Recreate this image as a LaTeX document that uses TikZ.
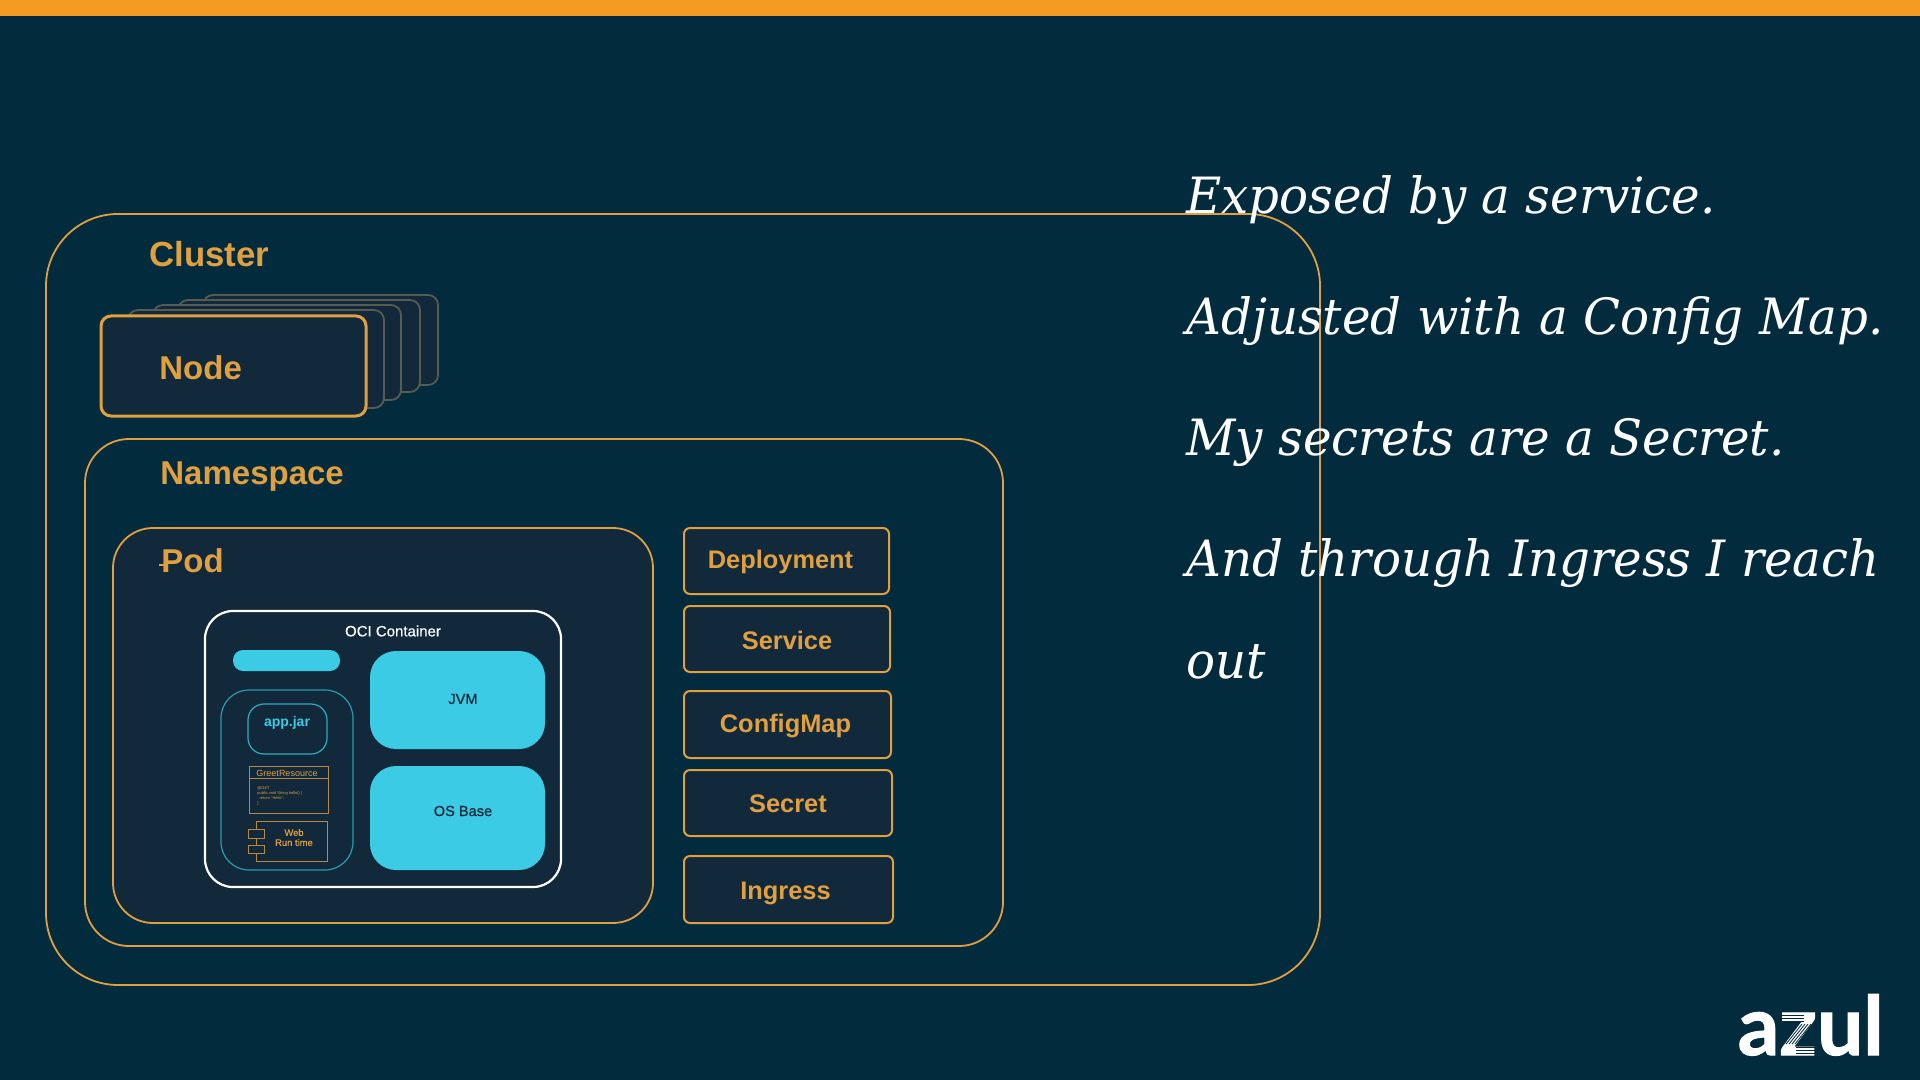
\documentclass[tikz,border=0pt]{standalone}
\usepackage{fontspec}
\setmainfont{Liberation Sans}
\newfontfamily\quotefont[FakeStretch=0.965]{DejaVu Serif}
\newfontfamily\logofont[FakeBold=1.2]{Lato}
\newfontfamily\heavyfont[FakeBold=0.5]{Liberation Sans}
\usetikzlibrary{positioning}
\definecolor{slidebg}{HTML}{022B3E}
\definecolor{panelbg}{HTML}{11293A}
\definecolor{azulorange}{HTML}{E0A040}
\definecolor{topbar}{HTML}{F39C21}
\definecolor{azulcyan}{HTML}{3BCBE4}
\definecolor{fadeline}{HTML}{565C50}
\begin{document}
\begin{tikzpicture}[x=.5pt,y=-.5pt,
boxlabel/.style={font=\bfseries\fontsize{16.5}{18}\selectfont,text=azulorange,anchor=west,inner sep=0pt},
kindbox/.style={draw=azulorange,line width=1pt,fill=panelbg,rounded corners=3pt},
kindlabel/.style={font=\bfseries\fontsize{12.7}{14}\selectfont,text=azulorange,inner sep=0pt},
outerbox/.style={draw=azulorange,line width=.9pt},
stackcard/.style={draw=fadeline,line width=.9pt,fill=panelbg,rounded corners=5pt},
quote/.style={font=\quotefont\itshape\fontsize{25}{30}\selectfont,text=white,anchor=base west,inner sep=0pt}]
\useasboundingbox (0,0) rectangle (1920,1080);
\fill[slidebg] (0,0) rectangle (1920,1080);
\fill[topbar] (0,0) rectangle (1920,16);
% outer frames
\draw[outerbox,rounded corners=36pt] (46,214) rectangle (1320,985);
\draw[outerbox,rounded corners=22pt] (85,439) rectangle (1003,946);
\node[boxlabel,font=\bfseries\fontsize{17.4}{18}\selectfont] (cluster) at (149,254) {Cluster};
% stacked nodes
\draw[stackcard] (203,295) rectangle (438,385);
\draw[stackcard] (178,300) rectangle (420,392);
\draw[stackcard] (153,305) rectangle (401,400);
\draw[stackcard] (128,310) rectangle (384,408);
\draw[draw=azulorange,line width=1.5pt,fill=panelbg,rounded corners=5pt] (101,316) rectangle (366,416);
\node[boxlabel] (node) at (159,368) {Node};
\node[boxlabel] (namespace) at (160,477) {Namespace};
% pod
\draw[outerbox,fill=panelbg,rounded corners=20pt] (113,528) rectangle (653,923);
\node[boxlabel] (pod) at (161,561) {Pod};
\draw[azulorange,line width=.9pt] (159,565)--(167,565);
% container
\draw[white,line width=1.1pt,rounded corners=14pt] (205,611) rectangle (561,887);
\node[font=\heavyfont\fontsize{7.5}{9}\selectfont,text=white,inner sep=0pt] (oci) at (393,631) {OCI Container};
\fill[azulcyan,rounded corners=5pt] (233,650) rectangle (340,671);
\fill[azulcyan,rounded corners=13pt] (370,651) rectangle (545,749);
\node[font=\heavyfont\fontsize{7.3}{9}\selectfont,text=panelbg,inner sep=0pt] (jvm) at (463,699) {JVM};
\fill[azulcyan,rounded corners=13pt] (370,766) rectangle (545,870);
\node[font=\heavyfont\fontsize{7.3}{9}\selectfont,text=panelbg,inner sep=0pt] (osbase) at (463,811) {OS Base};
\draw[azulcyan!70!panelbg,line width=.6pt,rounded corners=14pt] (221,690) rectangle (353,870);
\draw[azulcyan!80!panelbg,line width=.6pt,rounded corners=8pt] (248,704) rectangle (327,754);
\node[font=\bfseries\fontsize{7}{8}\selectfont,text=azulcyan,inner sep=0pt] (appjar) at (287,723) {app.jar};
% class box
\draw[azulorange!80!panelbg,line width=.5pt] (249,766) rectangle (328,813);
\draw[azulorange!80!panelbg,line width=.5pt] (249,778)--(328,778);
\node[font=\fontsize{4.5}{5}\selectfont,text=azulorange,inner sep=0pt] (greet) at (287,773) {GreetResource};
\node[font=\fontsize{2}{2.6}\selectfont,text=azulorange,align=left,anchor=north west,inner sep=0pt] (code) at (257,786) {@GET\\public void String hello() \{\\ \ \ return "Hello";\\\}};
% runtime box
\draw[azulorange!80!panelbg,line width=.5pt] (256,821) rectangle (327,861);
\draw[azulorange!80!panelbg,line width=.5pt,fill=panelbg] (248,829) rectangle (264,838);
\draw[azulorange!80!panelbg,line width=.5pt,fill=panelbg] (248,845) rectangle (264,853);
\node[font=\heavyfont\fontsize{4.7}{5}\selectfont,text=azulorange,align=center,inner sep=0pt] (webrun) at (294,837.5) {Web\\Run time};
% kinds
\draw[kindbox] (684,528) rectangle (889,594) node[midway,kindlabel,xshift=-3pt,yshift=-.5pt] (deployment) {Deployment};
\draw[kindbox] (684,606) rectangle (890,672) node[midway,kindlabel,yshift=-.5pt] (service) {Service};
\draw[kindbox] (684,691) rectangle (891,758) node[midway,kindlabel,xshift=-1pt,yshift=-.5pt] (configmap) {ConfigMap};
\draw[kindbox] (684,770) rectangle (892,836) node[midway,kindlabel,yshift=-.5pt] (secret) {Secret};
\draw[kindbox] (684,856) rectangle (893,923) node[midway,kindlabel,xshift=-1.5pt,yshift=-2pt] (ingress) {Ingress};
% right hand text
\node[quote] (line1) at (1186,214) {Exposed by a service.};
\node[quote] (line2) at (1186,335) {Adjusted with a Config Map.};
\node[quote] (line3) at (1186,455) {My secrets are a Secret.};
\node[quote] (line4) at (1186,576) {And through Ingress I reach};
\node[quote] (line5) at (1186,678) {out};
% logo
\node[font=\logofont\bfseries\fontsize{41}{44}\selectfont,text=white,anchor=base east,inner sep=0pt] (logo) at (1884,1055) {azul};
\foreach \ypos in {1015,1018,1021}{\draw[slidebg,line width=.5pt] (1778,\ypos)--(1804,\ypos);}
\foreach \ypos in {1047,1050,1053}{\draw[slidebg,line width=.5pt] (1796,\ypos)--(1818,\ypos);}
\foreach \shift in {0,3,6,9}{\draw[slidebg,line width=.4pt] (1802+\shift,1024)--(1786+\shift,1044);}
\end{tikzpicture}
\end{document}
